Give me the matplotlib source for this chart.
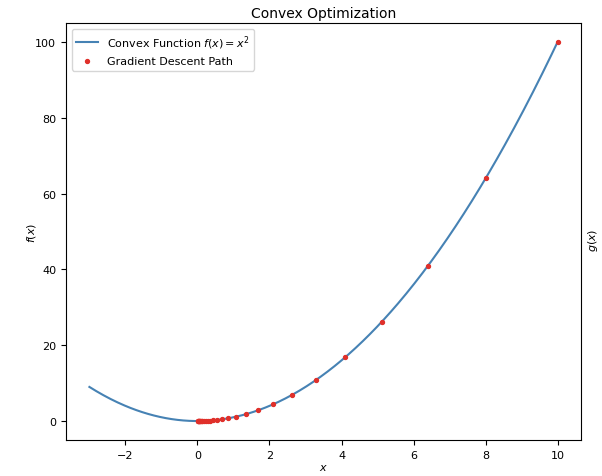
import numpy as np
import matplotlib
matplotlib.use("Agg")
import matplotlib.pyplot as plt

# Curve domain
x_min, x_max = -3, 10
# Gradient descent path values
path_x = [10.0, 8.0, 6.4, 5.12, 4.10, 3.28, 2.62, 2.10, 1.68, 1.34, 1.07, 0.86,
          0.69, 0.55, 0.44, 0.35, 0.28, 0.23, 0.18, 0.14, 0.12, 0.09, 0.07, 0.06,
          0.05, 0.04, 0.03, 0.02, 0.02, 0.01]
path_y = [100.0, 64.0, 41.0, 26.2, 16.8, 10.7, 6.9, 4.4, 2.8, 1.8, 1.15, 0.74,
          0.47, 0.30, 0.19, 0.12, 0.08, 0.05, 0.03, 0.02, 0.01, 0.01, 0.0, 0.0,
          0.0, 0.0, 0.0, 0.0, 0.0, 0.0]

fig = plt.figure(figsize=(6.02, 4.77), dpi=100)
ax = fig.add_axes([66/602, 1 - 441/477, (581-66)/602, (441-24)/477])

xs = np.linspace(x_min, x_max, 400)
ax.plot(xs, xs**2, color='#4682b4', lw=1.5, label=r'Convex Function $f(x) = x^2$')
ax.scatter(path_x, path_y, color='#e0302a', s=8, zorder=3, label='Gradient Descent Path')

ax.set_title('Convex Optimization', fontsize=10, pad=4)
ax.set_xlabel('$x$', fontsize=8, labelpad=2)
ax.set_ylabel('$f(x)$', fontsize=8, labelpad=-2)
ax.tick_params(labelsize=8)
ax.legend(loc='upper left', fontsize=8)

# Label of a neighbouring panel at the right edge
fig.text(586/602, 1 - 240/477, '$g(x)$', rotation=90, fontsize=8, ha='left', va='center')

fig.savefig('out.png', dpi=100)
